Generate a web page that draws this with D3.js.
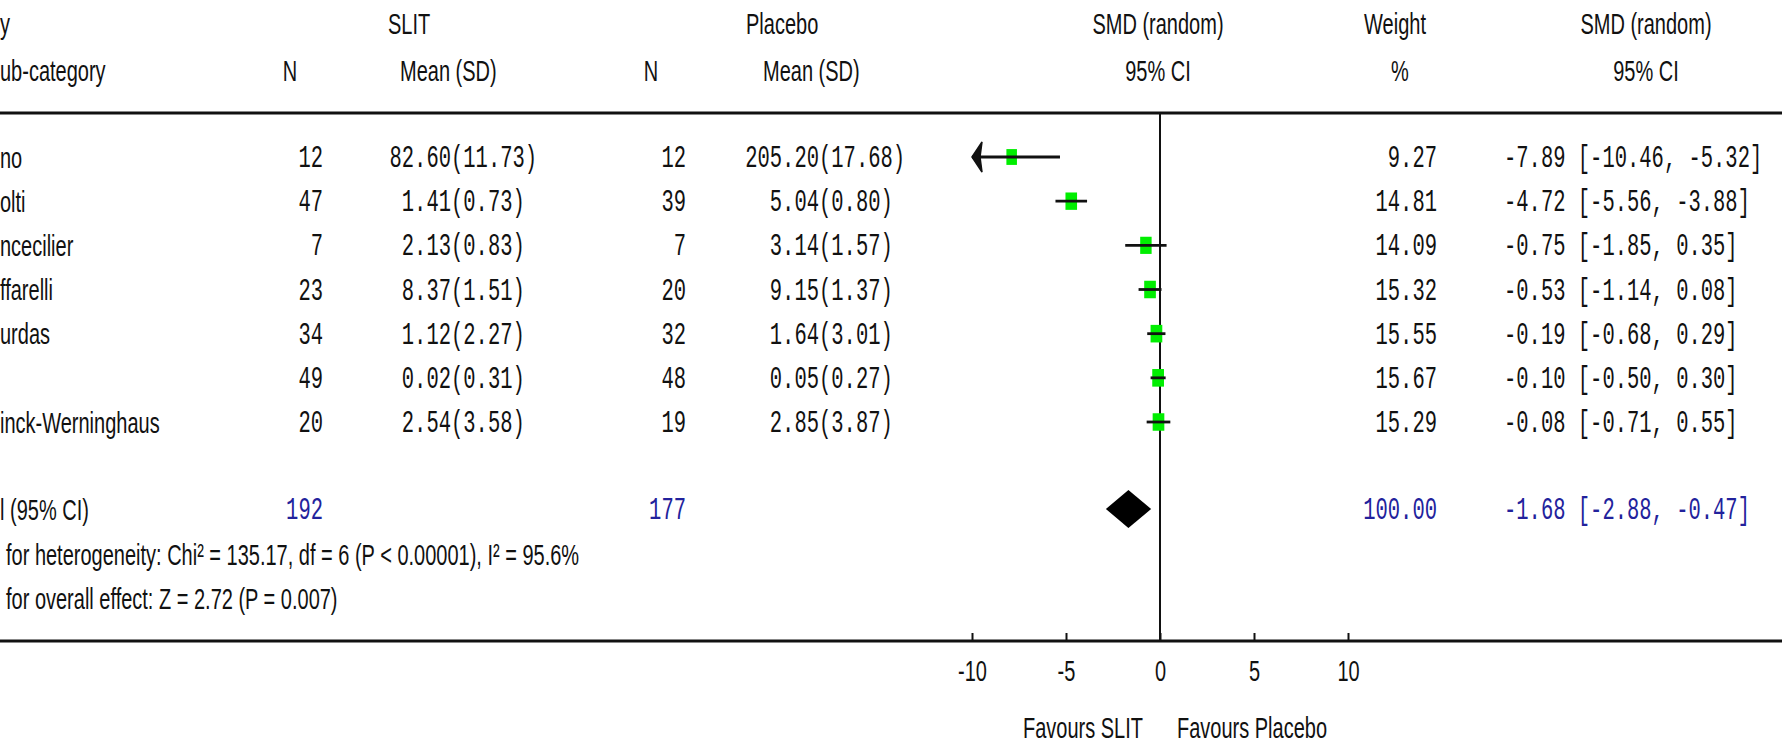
<!DOCTYPE html>
<html>
<head>
<meta charset="utf-8">
<script src="https://cdn.jsdelivr.net/npm/d3@7"></script>
<style>
  body { margin: 0; background: #fff; }
  svg { display: block; }
</style>
</head>
<body>
<div id="chart"></div>
<script>
// study rows (names are cut off on the left in the source picture)
const studies = ["no", "olti", "ncecilier", "ffarelli", "urdas", "", "inck-Werninghaus"];
const slitN = [12, 47, 7, 23, 34, 49, 20];
const slitMean = [82.60, 1.41, 2.13, 8.37, 1.12, 0.02, 2.54];
const slitSD = [11.73, 0.73, 0.83, 1.51, 2.27, 0.31, 3.58];
const placeboN = [12, 39, 7, 20, 32, 48, 19];
const placeboMean = [205.20, 5.04, 3.14, 9.15, 1.64, 0.05, 2.85];
const placeboSD = [17.68, 0.80, 1.57, 1.37, 3.01, 0.27, 3.87];
const weights = [9.27, 14.81, 14.09, 15.32, 15.55, 15.67, 15.29];
const smd = [-7.89, -4.72, -0.75, -0.53, -0.19, -0.10, -0.08];
const ciLow = [-10.46, -5.56, -1.85, -1.14, -0.68, -0.50, -0.71];
const ciHigh = [-5.32, -3.88, 0.35, 0.08, 0.29, 0.30, 0.55];

// pooled result
const totalN = [192, 177];
const totalWeight = 100.00;
const totalEffect = [-1.68, -2.88, -0.47]; // smd, low, high

const heterogeneityText = "for heterogeneity: Chi\u00b2 = 135.17, df = 6 (P < 0.00001), I\u00b2 = 95.6%";
const overallText = "for overall effect: Z = 2.72 (P = 0.007)";
const axisTicks = [-10, -5, 0, 5, 10];

const width = 1782, height = 744;
const SY = 1.5; // text in the source is stretched vertically
const blue = "#22229c";

const svg = d3.select("#chart").append("svg")
    .attr("width", width)
    .attr("height", height);

const x = d3.scaleLinear().domain([-10, 10]).range([972, 1348]);
const y = d3.scalePoint().domain(d3.range(studies.length)).range([157, 422]);
const boxW = d3.scaleLinear().domain([9, 16]).range([10.5, 11.8]);

const ruleTop = 113, ruleBottom = 641;
const totalY = 509;

function put(x0, y0, str, opt) {
    opt = opt || {};
    const mono = !!opt.mono;
    return svg.append("text")
        .attr("transform", `translate(${x0},${y0}) scale(1,${SY})`)
        .attr("dy", mono ? "0.33em" : "0.36em")
        .attr("text-anchor", opt.anchor || "start")
        .attr("fill", opt.color || "#111")
        .style("font-family", mono ? "'Liberation Mono', 'DejaVu Sans Mono', monospace" : "'Liberation Sans', Arial, sans-serif")
        .style("font-size", mono ? "20.5px" : "20px")
        .text(str);
}

// headers
put(0, 23, "y");
put(0, 70, "ub-category");
put(290, 70, "N", { anchor: "middle" });
put(388, 23, "SLIT");
put(400, 70, "Mean (SD)");
put(651, 70, "N", { anchor: "middle" });
put(746, 23, "Placebo");
put(763, 70, "Mean (SD)");
put(1158, 23, "SMD (random)", { anchor: "middle" });
put(1158, 70, "95% CI", { anchor: "middle" });
put(1395, 23, "Weight", { anchor: "middle" });
put(1400, 70, "%", { anchor: "middle" });
put(1646, 23, "SMD (random)", { anchor: "middle" });
put(1646, 70, "95% CI", { anchor: "middle" });

// rules
svg.append("line").attr("x1", 0).attr("x2", width).attr("y1", ruleTop).attr("y2", ruleTop)
    .attr("stroke", "#111").attr("stroke-width", 3);
svg.append("line").attr("x1", 0).attr("x2", width).attr("y1", ruleBottom).attr("y2", ruleBottom)
    .attr("stroke", "#111").attr("stroke-width", 3);

// zero line
svg.append("line").attr("x1", x(0)).attr("x2", x(0)).attr("y1", ruleTop).attr("y2", ruleBottom)
    .attr("stroke", "#111").attr("stroke-width", 2);

// table rows
studies.forEach((name, i) => {
    const yy = y(i);
    put(0, yy, name);
    put(323, yy, slitN[i], { mono: true, anchor: "end" });
    put(451, yy, slitMean[i].toFixed(2), { mono: true, anchor: "end" });
    put(451, yy, "(" + slitSD[i].toFixed(2) + ")", { mono: true });
    put(686, yy, placeboN[i], { mono: true, anchor: "end" });
    put(819, yy, placeboMean[i].toFixed(2), { mono: true, anchor: "end" });
    put(819, yy, "(" + placeboSD[i].toFixed(2) + ")", { mono: true });
    put(1437, yy, weights[i].toFixed(2), { mono: true, anchor: "end" });
    put(1504, yy, `${smd[i].toFixed(2)} [${ciLow[i].toFixed(2)}, ${ciHigh[i].toFixed(2)}]`, { mono: true });
});

// boxes
svg.selectAll(".box")
    .data(d3.range(studies.length))
    .enter().append("rect")
    .attr("class", "box")
    .attr("x", i => x(smd[i]) - boxW(weights[i]) / 2)
    .attr("y", i => y(i) - boxW(weights[i]) * 0.75)
    .attr("width", i => boxW(weights[i]))
    .attr("height", i => boxW(weights[i]) * 1.5)
    .attr("fill", "#00ee00");

// confidence intervals (clipped at the axis limit with an arrow)
const [xmin, xmax] = x.domain();
svg.selectAll(".ci")
    .data(d3.range(studies.length))
    .enter().append("line")
    .attr("class", "ci")
    .attr("x1", i => x(Math.max(ciLow[i], xmin)))
    .attr("x2", i => x(Math.min(ciHigh[i], xmax)))
    .attr("y1", i => y(i))
    .attr("y2", i => y(i))
    .attr("stroke", "#111")
    .attr("stroke-width", 2.8);

svg.selectAll(".arrow")
    .data(d3.range(studies.length).filter(i => ciLow[i] < xmin))
    .enter().append("path")
    .attr("class", "arrow")
    .attr("d", i => {
        const tx = x(xmin), ty = y(i);
        return `M${tx},${ty} L${tx + 10},${ty - 15} L${tx + 8},${ty} L${tx + 10},${ty + 15} Z`;
    })
    .attr("fill", "#111")
    .attr("stroke", "#111")
    .attr("stroke-width", 1.5);

// pooled row
put(0, totalY, "l (95% CI)");
put(323, totalY, totalN[0], { mono: true, anchor: "end", color: blue });
put(686, totalY, totalN[1], { mono: true, anchor: "end", color: blue });
put(1437, totalY, totalWeight.toFixed(2), { mono: true, anchor: "end", color: blue });
put(1504, totalY, `${totalEffect[0].toFixed(2)} [${totalEffect[1].toFixed(2)}, ${totalEffect[2].toFixed(2)}]`, { mono: true, color: blue });

svg.append("path")
    .attr("d", `M${x(totalEffect[1])},${totalY} L${x(totalEffect[0])},${totalY - 19} L${x(totalEffect[2])},${totalY} L${x(totalEffect[0])},${totalY + 19} Z`)
    .attr("fill", "#000");

put(6, 554, heterogeneityText);
put(6, 598, overallText);

// axis
const xAxis = d3.axisBottom(x)
    .tickValues(axisTicks)
    .tickSizeInner(-8)
    .tickSizeOuter(0)
    .tickFormat(d => String(d));

const ax = svg.append("g")
    .attr("transform", `translate(0,${ruleBottom})`)
    .call(xAxis);
ax.select(".domain").remove();
ax.selectAll(".tick line").attr("stroke", "#111").attr("stroke-width", 2);
ax.selectAll(".tick text")
    .attr("y", 0)
    .attr("dy", "0.36em")
    .attr("transform", `translate(0,29) scale(1,${SY})`)
    .attr("fill", "#111")
    .style("font-family", "'Liberation Sans', Arial, sans-serif")
    .style("font-size", "20px");

put(x(0) - 17, 727, "Favours SLIT", { anchor: "end" });
put(x(0) + 17, 727, "Favours Placebo");
</script>
</body>
</html>
